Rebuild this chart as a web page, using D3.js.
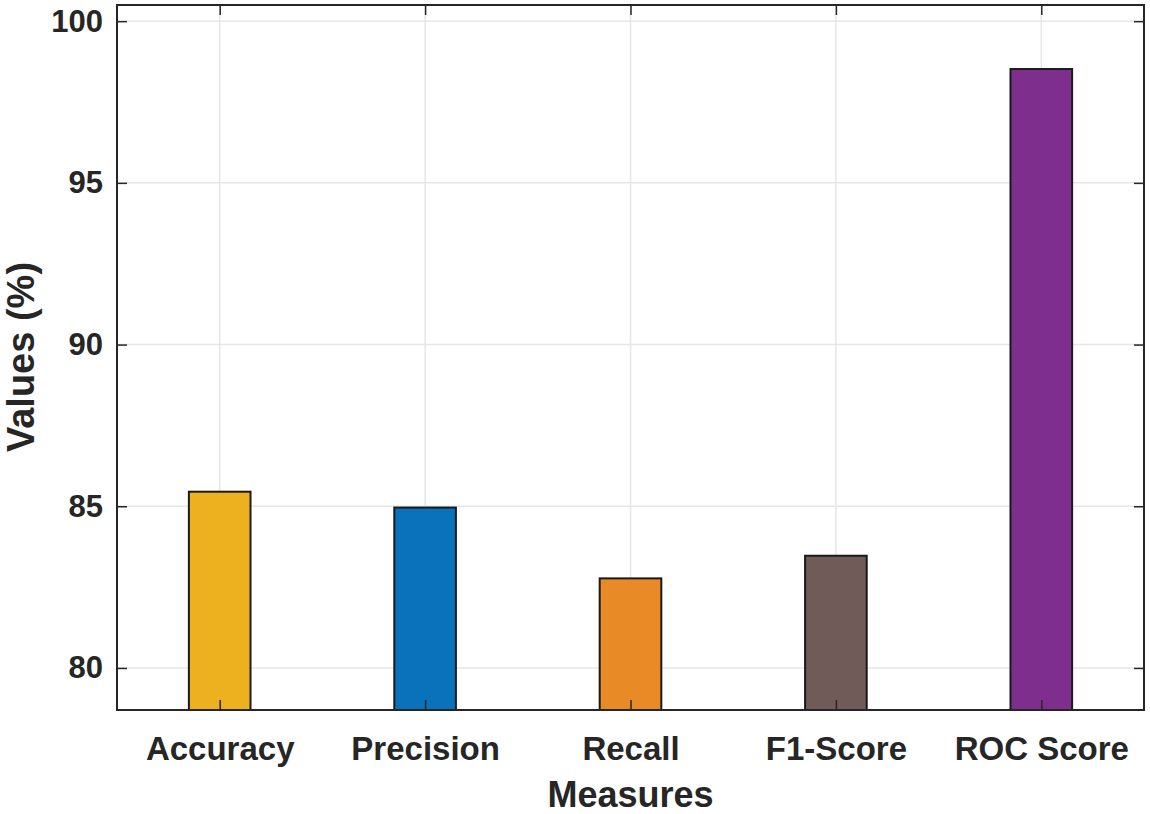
<!DOCTYPE html>
<html>
<head>
<meta charset="utf-8">
<script src="https://cdn.jsdelivr.net/npm/d3@7"></script>
<style>
  body { margin: 0; background: #fff; }
  text { font-family: "Liberation Sans", Arial, sans-serif; font-weight: bold; fill: #262626; }
</style>
</head>
<body>
<div id="chart"></div>
<script>
// data
var measures = ["Accuracy", "Precision", "Recall", "F1-Score", "ROC Score"];
var values = [85.45, 84.96, 82.77, 83.47, 98.52];
var colors = ["#EDB120", "#0A72BA", "#E88A25", "#705B58", "#7E2F8E"];
var yTicks = [80, 85, 90, 95, 100];

var W = 1150, H = 814;
var margin = {left: 117, right: 6, top: 5, bottom: 104};
var w = W - margin.left - margin.right,
    h = H - margin.top - margin.bottom;

var svg = d3.select("#chart").append("svg")
    .attr("width", W)
    .attr("height", H);

var g = svg.append("g").attr("transform", "translate(" + margin.left + "," + margin.top + ")");

var x = d3.scaleLinear().domain([0.5, 5.5]).range([0, w]);
var y = d3.scaleLinear().domain([78.7, 100.5]).range([h, 0]);
var barW = (x(2) - x(1)) * 0.3;

//grid
g.selectAll(".gy").data(yTicks).enter().append("line")
    .attr("x1", 0).attr("x2", w)
    .attr("y1", function(d) { return y(d); })
    .attr("y2", function(d) { return y(d); })
    .attr("stroke", "#e6e6e6").attr("stroke-width", 1.5);

g.selectAll(".gx").data(measures).enter().append("line")
    .attr("x1", function(d, i) { return x(i + 1); })
    .attr("x2", function(d, i) { return x(i + 1); })
    .attr("y1", 0).attr("y2", h)
    .attr("stroke", "#e6e6e6").attr("stroke-width", 1.5);

//bars
g.selectAll(".bar").data(values).enter().append("rect")
    .attr("x", function(d, i) { return x(i + 1) - barW / 2; })
    .attr("y", function(d) { return y(d); })
    .attr("width", barW)
    .attr("height", function(d) { return h - y(d); })
    .attr("fill", function(d, i) { return colors[i]; })
    .attr("stroke", "#1a1a1a")
    .attr("stroke-width", 2);

//axes, ticks inward on all four sides
var tickVals = measures.map(function(d, i) { return i + 1; });
function styleAxis(sel, size) {
    sel.select(".domain").remove();
    sel.selectAll(".tick line").attr("stroke", "#262626").attr("stroke-width", 1.5);
    sel.selectAll("text").style("font-size", size).attr("fill", "#262626");
}

g.append("g").attr("transform", "translate(0," + h + ")")
    .call(d3.axisBottom(x).tickValues(tickVals).tickSizeInner(-10).tickSizeOuter(0)
        .tickPadding(27).tickFormat(function(d) { return measures[d - 1]; }))
    .call(styleAxis, "33px");

g.append("g")
    .call(d3.axisTop(x).tickValues(tickVals).tickSizeInner(-10).tickSizeOuter(0).tickFormat(""))
    .call(styleAxis, "31px");

g.append("g")
    .call(d3.axisLeft(y).tickValues(yTicks).tickSizeInner(-10).tickSizeOuter(0).tickPadding(14))
    .call(styleAxis, "31px");

g.append("g").attr("transform", "translate(" + w + ",0)")
    .call(d3.axisRight(y).tickValues(yTicks).tickSizeInner(-10).tickSizeOuter(0).tickFormat(""))
    .call(styleAxis, "31px");

g.append("rect")
    .attr("width", w).attr("height", h)
    .attr("fill", "none").attr("stroke", "#262626").attr("stroke-width", 2);

//labels
svg.append("text")
    .attr("x", margin.left + w / 2).attr("y", 807)
    .attr("text-anchor", "middle")
    .style("font-size", "36px")
    .text("Measures");

svg.append("text")
    .attr("transform", "translate(34," + (margin.top + 352) + ") rotate(-90)")
    .attr("text-anchor", "middle")
    .style("font-size", "38px")
    .text("Values (%)");
</script>
</body>
</html>
